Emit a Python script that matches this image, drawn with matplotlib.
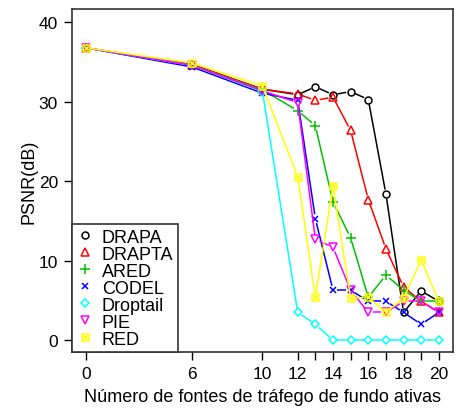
import matplotlib
matplotlib.use("Agg")
import matplotlib.pyplot as plt
import numpy as np
from matplotlib.path import Path

plt.rcParams['font.family'] = ['Liberation Sans', 'DejaVu Sans']

x = [0, 6, 10, 12, 13, 14, 15, 16, 17, 18, 19, 20]

drapa    = [36.8, 34.7, 31.6, 30.9, 31.9, 30.9, 31.3, 30.3, 18.4, 3.5, 6.2, 4.9]
drapta   = [36.8, 34.7, 31.6, 31.0, 30.2, 30.6, 26.4, 17.7, 11.5, 6.7, 4.9, 3.5]
ared     = [36.8, 34.6, 31.5, 28.9, 27.0, 17.4, 12.9, 5.4, 8.2, 6.3, 4.9, 4.9]
codel    = [36.8, 34.4, 31.1, 30.2, 15.3, 6.3, 6.3, 4.9, 4.9, 3.5, 2.0, 3.5]
droptail = [36.8, 34.6, 31.3, 3.5, 2.0, 0.0, 0.0, 0.0, 0.0, 0.0, 0.0, 0.0]
pie      = [36.8, 34.6, 31.4, 29.9, 12.7, 11.7, 6.3, 3.5, 3.5, 4.9, 4.9, 3.5]
red      = [36.8, 34.9, 32.0, 20.6, 5.4, 19.4, 5.3, 5.4, 3.5, 5.3, 10.1, 4.9]

names = ["DRAPA", "DRAPTA", "ARED", "CODEL", "Droptail", "PIE", "RED"]
colors = ["black", "red", "#00c000", "blue", "cyan", "magenta", "#ffff00"]

# square with an x inside, drawn as one marker path
boxx = Path([(-1, -1), (1, -1), (1, 1), (-1, 1), (-1, -1),
             (-0.6, -0.6), (0.6, 0.6), (-0.6, 0.6), (0.6, -0.6)],
            [Path.MOVETO, Path.LINETO, Path.LINETO, Path.LINETO, Path.CLOSEPOLY,
             Path.MOVETO, Path.LINETO, Path.MOVETO, Path.LINETO])
markers = ["o", "^", "+", "x", "D", "v", boxx]
msizes = [5, 5.5, 7, 5, 4.2, 5.5, 5]

fig = plt.figure(figsize=(4.58, 4.14), dpi=100)
ax = fig.add_axes([0.157, 0.147, 0.832, 0.829])
ax.set_xlim(-0.8, 20.8)
ax.set_ylim(-1.5, 41.7)


def gapped_line(ax, xs, ys, color, gap=4.5):
    # line segments that stop short of each point, like gnuplot linespoints
    pts = ax.transData.transform(np.column_stack([xs, ys]))
    inv = ax.transData.inverted()
    for p0, p1 in zip(pts[:-1], pts[1:]):
        d = p1 - p0
        n = np.hypot(*d)
        if n <= 2 * gap:
            continue
        u = d / n
        seg = inv.transform(np.array([p0 + u * gap, p1 - u * gap]))
        ax.plot(seg[:, 0], seg[:, 1], color=color, lw=1.1, solid_capstyle="butt")


series = [drapa, drapta, ared, codel, droptail, pie, red]
handles = []
for ys, name, c, m, ms in zip(series, names, colors, markers, msizes):
    gapped_line(ax, x, ys, c)
    h, = ax.plot(x, ys, linestyle="none", marker=m, ms=ms, mec=c, mfc="none",
                 mew=1.1, label=name)
    handles.append(h)

ax.set_xticks([0, 6, 10, 12, 13, 14, 15, 16, 17, 18, 19, 20])
ax.set_xticklabels(["0", "6", "10", "12", "", "14", "", "16", "", "18", "", "20"])
ax.set_yticks([0, 10, 20, 30, 40])
ax.tick_params(direction="out", length=6, width=1, labelsize=12.5, pad=4,
               top=False, right=False)
for s in ax.spines.values():
    s.set_linewidth(1.2)
    s.set_color("#333333")

ax.set_xlabel("Número de fontes de tráfego de fundo ativas", fontsize=13, labelpad=5)
ax.set_ylabel("PSNR(dB)", fontsize=13, labelpad=1)

leg = ax.legend(handles=handles, loc="lower left", bbox_to_anchor=(0, 0),
                borderaxespad=0, fancybox=False, framealpha=1, edgecolor="#333333",
                fontsize=13, labelspacing=0.0, handlelength=1.0, handletextpad=0.4,
                borderpad=0.25)
leg.get_frame().set_linewidth(1.2)

fig.savefig("out.png", dpi=100)
